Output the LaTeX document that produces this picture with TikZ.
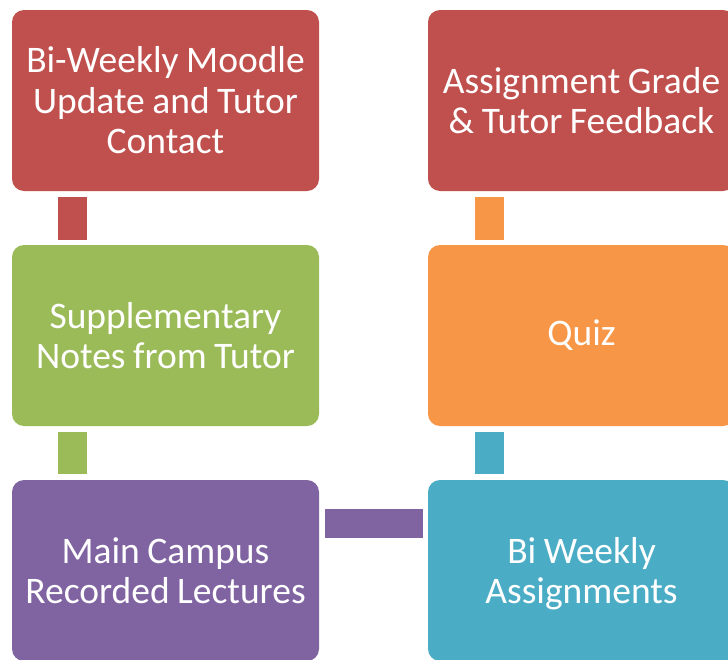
\documentclass[tikz,border=0pt]{standalone}
\usepackage{fontspec}
\setmainfont{Carlito}
\usetikzlibrary{calc}
\definecolor{cred}{HTML}{C0504D}
\definecolor{cgreen}{HTML}{9BBB59}
\definecolor{cpurple}{HTML}{8064A2}
\definecolor{cblue}{HTML}{4BACC6}
\definecolor{corange}{HTML}{F79646}
\tikzset{
  stepbox/.style={rectangle, rounded corners=12pt, minimum width=307pt, minimum height=181pt,
    text width=305pt, align=center, inner sep=0pt, text=white,
    font=\fontsize{37.5}{40.5}\selectfont,
    execute at begin node={\spaceskip=0.2em\relax}},
  bar/.style={line width=29pt, draw=#1}
}
\begin{document}
\begin{tikzpicture}[x=1pt,y=-1pt]
\clip (0,0) rectangle (728,659);
\fill[white] (0,0) rectangle (728,659);
\node[stepbox, fill=cred]    (tl) at (165.5,100.5) {Bi-Weekly Moodle\\Update and Tutor\\Contact};
\node[stepbox, fill=cgreen]  (ml) at (165.5,335.5) {Supplementary\\Notes from Tutor};
\node[stepbox, fill=cpurple] (bl) at (165.5,570.5) {Main Campus\\Recorded Lectures};
\node[stepbox, fill=cred]    (tr) at (581.5,100.5) {Assignment Grade\\\& Tutor Feedback};
\node[stepbox, fill=corange] (mr) at (581.5,335.5) {Quiz};
\node[stepbox, fill=cblue]   (br) at (581.5,570.5) {Bi Weekly\\\smash{Assignments}};
\draw[bar=cred, shorten <=6pt, shorten >=5pt] ($(tl.south west)+(60.5,0)$) -- ($(ml.north west)+(60.5,0)$);
\draw[bar=cgreen, shorten <=6pt, shorten >=6pt] ($(ml.south west)+(60.5,0)$) -- ($(bl.north west)+(60.5,0)$);
\draw[bar=cpurple, shorten <=6pt, shorten >=5pt] ($(bl.east)+(0,-47)$) -- ($(br.west)+(0,-47)$);
\draw[bar=cblue, shorten <=6pt, shorten >=6pt] ($(br.north west)+(61.5,0)$) -- ($(mr.south west)+(61.5,0)$);
\draw[bar=corange, shorten <=5pt, shorten >=6pt] ($(mr.north west)+(61.5,0)$) -- ($(tr.south west)+(61.5,0)$);
\end{tikzpicture}
\end{document}
